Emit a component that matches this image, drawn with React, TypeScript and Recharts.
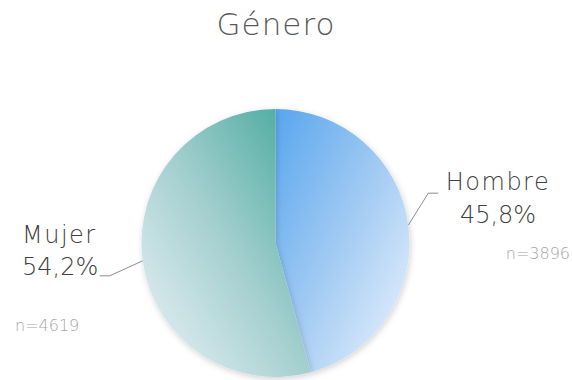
import { PieChart, Pie, Cell } from "recharts";

// Género distribution
const categories = ["Hombre", "Mujer"];
const counts = [3896, 4619];
const percentLabels = ["45,8%", "54,2%"];
const countLabels = ["n=3896", "n=4619"];

const data = categories.map((name, i) => ({
  name,
  value: counts[i],
  pct: percentLabels[i],
  n: countLabels[i],
}));

// page coords of the pie; recharts adds a 5px margin to cx/cy
const MARGIN = 5;
const CX = 275.5;
const CY = 243;
const R = 134;
const FONT = "'DejaVu Sans', sans-serif";

// leader line / text placement per slice
const labelLayout: Record<string, any> = {
  Hombre: {
    elbow: [20, -32],
    tail: 10,
    textX: 498,
    nameY: 190,
    pctY: 223,
    anchor: "middle",
    nX: 570,
    nY: 259,
    nAnchor: "end",
  },
  Mujer: {
    elbow: [-33, 15],
    tail: -10,
    textX: 22,
    nameY: 243,
    pctY: 275,
    anchor: "start",
    nX: 15,
    nY: 331,
    nAnchor: "start",
  },
};

const renderLabel = (props: any) => {
  const { cx, cy, midAngle, outerRadius, payload } = props;
  const name = payload?.name ?? props.name;
  const cfg = labelLayout[name];
  if (!cfg) return null;
  const rad = (Math.PI / 180) * midAngle;
  const sx = cx + outerRadius * Math.cos(rad);
  const sy = cy - outerRadius * Math.sin(rad);
  const ex = sx + cfg.elbow[0];
  const ey = sy + cfg.elbow[1];
  const tx = ex + cfg.tail;
  return (
    <g>
      <polyline
        points={`${sx},${sy} ${ex},${ey} ${tx},${ey}`}
        fill="none"
        stroke="#8c8c8c"
        strokeWidth={1}
      />
      <text x={cfg.textX} y={cfg.nameY} textAnchor={cfg.anchor} fill="#404040" fontSize={24} fontFamily={FONT} fontWeight={300} letterSpacing={1.5}>
        {name}
      </text>
      <text x={cfg.textX} y={cfg.pctY} textAnchor={cfg.anchor} fill="#404040" fontSize={24} fontFamily={FONT} fontWeight={300}>
        {payload?.pct}
      </text>
      <text x={cfg.nX} y={cfg.nY} textAnchor={cfg.nAnchor} fill="#a6a6a6" fontSize={16} fontFamily={FONT} fontWeight={300}>
        {payload?.n}
      </text>
    </g>
  );
};

export default function App() {
  return (
    <div style={{ position: "absolute", left: 0, top: 0, width: 572, height: 380, background: "#fff" }}>
      <PieChart width={572} height={380}>
        <defs>
          <linearGradient id="gradHombre" x1="0" y1="0" x2="1" y2="1">
            <stop offset="0%" stopColor="#58a6ee" />
            <stop offset="50%" stopColor="#a3cbf3" />
            <stop offset="100%" stopColor="#eef5fd" />
          </linearGradient>
          <linearGradient id="gradMujer" x1="1" y1="0" x2="0" y2="1">
            <stop offset="0%" stopColor="#3fa698" />
            <stop offset="50%" stopColor="#a4cfcf" />
            <stop offset="100%" stopColor="#eef4fa" />
          </linearGradient>
          <filter id="pieShadow" x="-20%" y="-20%" width="140%" height="140%">
            <feDropShadow dx="1" dy="2" stdDeviation="3" floodColor="#000" floodOpacity="0.18" />
          </filter>
        </defs>
        <text x={276} y={35} textAnchor="middle" fill="#595959" fontSize={31} fontFamily={FONT} fontWeight={200} letterSpacing={1}>
          Género
        </text>
        <Pie
          data={data}
          dataKey="value"
          nameKey="name"
          cx={CX - MARGIN}
          cy={CY - MARGIN}
          outerRadius={R}
          startAngle={90}
          endAngle={-270}
          stroke="none"
          label={renderLabel}
          labelLine={false}
          isAnimationActive={false}
          style={{ filter: "url(#pieShadow)" }}
        >
          <Cell fill="url(#gradHombre)" />
          <Cell fill="url(#gradMujer)" />
        </Pie>
      </PieChart>
    </div>
  );
}
